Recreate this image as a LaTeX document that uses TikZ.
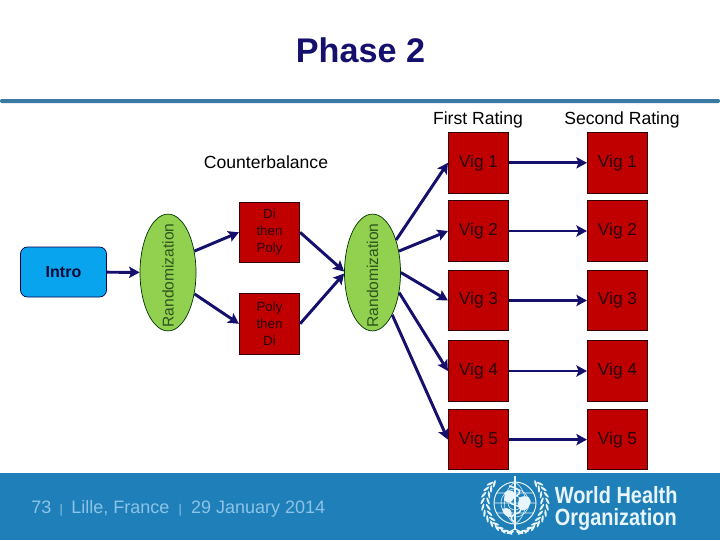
\documentclass[tikz,border=0pt]{standalone}
\usepackage{fontspec}
\setmainfont{Liberation Sans}
\newfontfamily\whofont[FakeStretch=0.85]{Liberation Sans Bold}
\usetikzlibrary{
  arrows.meta,
  positioning,
  shapes.geometric
}
\definecolor{whoband}{RGB}{31,127,185}
\definecolor{whorule}{RGB}{58,122,165}
\definecolor{whofoot}{RGB}{140,196,232}
\definecolor{navyline}{RGB}{20,16,107}
\definecolor{vigred}{RGB}{192,0,0}
\definecolor{vigtext}{RGB}{40,0,10}
\definecolor{randgreen}{RGB}{146,208,80}
\definecolor{randink}{RGB}{45,85,30}
\definecolor{introblue}{RGB}{8,165,238}
\definecolor{whopale}{RGB}{232,245,252}

\begin{document}
\begin{tikzpicture}[
    x=0.025cm, y=-0.025cm,
    vig/.style={rectangle, draw=black!80!red, fill=vigred, text=vigtext,
                minimum size=1.51cm, inner sep=0pt, line width=0.5pt,
                font=\fontsize{12.3}{14}\selectfont},
    order/.style={vig, align=center,
                  font=\fontsize{9.5}{12}\selectfont},
    rand/.style={ellipse, draw=black!80!green, fill=randgreen,
                 minimum width=1.4cm, minimum height=2.92cm, inner sep=0pt,
                 line width=0.5pt},
    randtext/.style={rotate=90, font=\fontsize{11.1}{13}\selectfont,
                     text=randink, inner sep=0pt},
    heading/.style={font=\fontsize{12.5}{15}\selectfont, text=black},
    link/.style={-{Stealth[length=7.5pt, width=8pt, inset=1.5pt]},
                 navyline, line width=2.1pt},
    leaf/.style={fill=whopale}
  ]
  \useasboundingbox (0,0) rectangle (720,540);

  %% Title and bands
  \fill[whorule, rounded corners=1pt] (0,99) rectangle (720,103);
  \fill[whoband] (0,473) rectangle (720,540);
  \node[font=\fontsize{24.3}{28}\bfseries\selectfont, text=navyline] (title)
    at (360.5,50) {Phase 2};

  %% Left part
  \node[rectangle, rounded corners=5pt, draw=black!70!blue, fill=introblue,
        minimum width=2.15cm, minimum height=1.25cm, inner sep=0pt,
        text=navyline!50!black, line width=0.5pt,
        font=\fontsize{11.4}{14}\bfseries\selectfont] (intro) at (63.5,272) {Intro};
  \node[rand] (rand1) at (168,272.5) {};
  \node[randtext] (rand1text) at (168,275.5) {Randomization};
  \node[order] (dipoly) at (269.5,232.3) {Di\\then\\Poly};
  \node[order] (polydi) at (269.5,323.8) {Poly\\then\\Di};
  \node[rand] (rand2) at (372.5,272.5) {};
  \node[randtext] (rand2text) at (372.5,275.5) {Randomization};

  %% Vignettes
  \foreach \i/\y in {1/162.8, 2/231, 3/300.5, 4/371, 5/439.6} {
    \node[vig] (first\i) at (478.5,\y) {Vig \i};
    \node[vig] (second\i) at (617.5,\y) {Vig \i};
    \draw[link] (first\i) -- (second\i);
  }

  %% Headings
  \node[heading] (counter) at (266,162.5) {Counterbalance};
  \node[heading] (firsthead) at (478,119.5) {First Rating};
  \node[heading] (secondhead) at (622,119.5) {Second Rating};

  %% Connectors
  \draw[link] (intro) -- (rand1);
  \draw[link] (rand1.39) -- (dipoly.west);
  \draw[link] (rand1.-39) -- (polydi.west);
  \draw[link] (dipoly.east) -- (rand2.178);
  \draw[link] (polydi.east) -- (rand2.182);
  \draw[link] (rand2.54) -- (first1.west);
  \draw[link] (rand2.39) -- (first2.west);
  \draw[link] (rand2.0) -- (first3.west);
  \draw[link] (rand2.-37) -- (first4.west);
  \draw[link] (rand2.-65) -- (first5.west);

  %% Footer
  \node[anchor=west, inner sep=0pt, text=whofoot,
        font=\fontsize{12.8}{15}\selectfont] (foot) at (31,509)
    {73\hspace{6pt}{\fontsize{9}{9}\selectfont|}\hspace{6pt}Lille, France\hspace{6.5pt}{\fontsize{9}{9}\selectfont|}\hspace{6.5pt}29 January 2014};
  \node[anchor=west, inner sep=0pt, align=left, text=whopale,
        font=\fontsize{16.7}{15.6}\whofont\selectfont] (who) at (554.5,508.5)
    {World Health\\Organization};

  %% Emblem
  \coordinate (globe) at (515,503);
  \draw[whopale, line width=0.7pt] (globe) circle (21);
  \draw[whopale, line width=0.4pt] (globe) circle (14) (globe) circle (7)
    (494,503) -- (536,503) (496.5,493) -- (533.5,493) (496.5,513) -- (533.5,513);
  \draw[whopale, line width=0.4pt] (515,482) .. controls (501,491) and (501,515) .. (515,524)
    (515,482) .. controls (529,491) and (529,515) .. (515,524);
  \fill[whopale] (505,492) .. controls (511,488) and (517,492) .. (514,498)
    .. controls (512,503) and (507,504) .. (504,500) -- cycle;
  \fill[whopale] (519,498) .. controls (527,493) and (534,499) .. (529,506)
    .. controls (525,513) and (519,511) .. (518,505) -- cycle;
  \fill[whopale] (502,509) .. controls (508,506) and (514,510) .. (511,517)
    .. controls (507,518) and (503,514) .. (502,509) -- cycle;
  \draw[whopale, line width=1.4pt] (515,476) -- (515,530);
  \draw[whopale, line width=1.1pt] (509,486) .. controls (522,489) and (522,494) .. (515,496)
    .. controls (507,498) and (507,503) .. (515,505)
    .. controls (523,507) and (523,512) .. (515,514)
    .. controls (510,516) and (510,520) .. (515,522);
  \draw[whopale, line width=0.9pt] (507,533) -- (515,529) -- (523,533);
  \foreach \a in {140,152,...,260} {
    \fill[leaf, shift={({515+27*cos(\a)},{503-30*sin(\a)})}, rotate=\a+115]
      (0,0) ellipse (3.8 and 1.1);
    \fill[leaf, shift={({515+32.5*cos(\a)},{503-30*sin(\a)})}, rotate=\a+65]
      (0,0) ellipse (3.8 and 1.1);
  }
  \foreach \a in {-80,-68,...,40} {
    \fill[leaf, shift={({515+27*cos(\a)},{503-30*sin(\a)})}, rotate=\a+65]
      (0,0) ellipse (3.8 and 1.1);
    \fill[leaf, shift={({515+32.5*cos(\a)},{503-30*sin(\a)})}, rotate=\a+115]
      (0,0) ellipse (3.8 and 1.1);
  }
\end{tikzpicture}
\end{document}
